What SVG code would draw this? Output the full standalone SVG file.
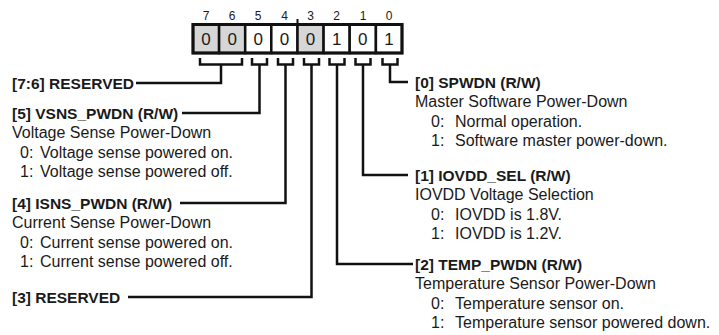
<svg xmlns="http://www.w3.org/2000/svg" width="719" height="335" viewBox="0 0 719 335">
<style>
.t{font-family:"Liberation Sans",Arial,sans-serif;font-size:16px;fill:#1a1a1a}
.b{font-weight:bold;font-size:15.5px}
.bit{font-family:"Liberation Sans",Arial,sans-serif;font-size:12px;fill:#1a1a1a;text-anchor:middle}
.val{font-family:"Liberation Sans",Arial,sans-serif;font-size:17px;fill:#1a1a1a;text-anchor:middle}
.cell{fill:#ffffff;stroke:#111;stroke-width:2.5}
.res{fill:#d6d6d6}
.ln{fill:none;stroke:#111;stroke-width:2.5;stroke-linejoin:miter}
</style>
<g id="register">
  <text class="bit" x="206" y="20">7</text>
  <text class="bit" x="232" y="20">6</text>
  <text class="bit" x="258" y="20">5</text>
  <text class="bit" x="284.5" y="20">4</text>
  <text class="bit" x="310.5" y="20">3</text>
  <text class="bit" x="336.5" y="20">2</text>
  <text class="bit" x="363" y="20">1</text>
  <text class="bit" x="389" y="20">0</text>
  <rect class="cell res" x="193" y="24.5" width="26.1" height="28.5"/>
  <rect class="cell res" x="219.1" y="24.5" width="26.1" height="28.5"/>
  <rect class="cell" x="245.2" y="24.5" width="26.1" height="28.5"/>
  <rect class="cell" x="271.3" y="24.5" width="26.2" height="28.5"/>
  <rect class="cell res" x="297.5" y="24.5" width="26.1" height="28.5"/>
  <rect class="cell" x="323.6" y="24.5" width="26.1" height="28.5"/>
  <rect class="cell" x="349.7" y="24.5" width="26.2" height="28.5"/>
  <rect class="cell" x="375.9" y="24.5" width="26.1" height="28.5"/>
  <rect x="193" y="24.5" width="209" height="28.5" fill="none" stroke="#111" stroke-width="3"/>
  <line x1="297.5" y1="19" x2="297.5" y2="25" stroke="#111" stroke-width="2"/>
  <text class="val" x="206" y="45">0</text>
  <text class="val" x="232.2" y="45">0</text>
  <text class="val" x="258.3" y="45">0</text>
  <text class="val" x="284.4" y="45">0</text>
  <text class="val" x="310.6" y="45">0</text>
  <text class="val" x="336.7" y="45">1</text>
  <text class="val" x="362.8" y="45">0</text>
  <text class="val" x="389" y="45">1</text>
</g>
<g id="connectors">
  <path class="ln" d="M200,58 V64.5 H242 V58 M221,64.5 V83 H136"/>
  <path class="ln" d="M252,58 V64.5 H267 V58 M259.5,64.5 V113 H182"/>
  <path class="ln" d="M278,58 V64.5 H293 V58 M285.5,64.5 V203 H180"/>
  <path class="ln" d="M304,58 V64.5 H319 V58 M311.5,64.5 V297 H128"/>
  <path class="ln" d="M329.5,58 V64.5 H344.5 V58 M337,64.5 V264 H413"/>
  <path class="ln" d="M355.5,58 V64.5 H370.5 V58 M363,64.5 V175 H408"/>
  <path class="ln" d="M382.5,58 V64.5 H397.5 V58 M390,64.5 V82 H408"/>
</g>
<g id="f76">
  <text class="t b" x="12" y="88.5">[7:6] RESERVED</text>
</g>
<g id="f5">
  <text class="t b" x="12" y="118.5">[5] VSNS_PWDN (R/W)</text>
  <text class="t" x="12" y="138">Voltage Sense Power-Down</text>
  <text class="t" x="20" y="157.5">0:</text><text class="t" x="40" y="157.5">Voltage sense powered on.</text>
  <text class="t" x="20" y="177">1:</text><text class="t" x="40" y="177">Voltage sense powered off.</text>
</g>
<g id="f4">
  <text class="t b" x="12" y="208.5">[4] ISNS_PWDN (R/W)</text>
  <text class="t" x="12" y="228">Current Sense Power-Down</text>
  <text class="t" x="20" y="247.5">0:</text><text class="t" x="40" y="247.5">Current sense powered on.</text>
  <text class="t" x="20" y="267">1:</text><text class="t" x="40" y="267">Current sense powered off.</text>
</g>
<g id="f3">
  <text class="t b" x="12" y="302.5">[3] RESERVED</text>
</g>
<g id="f0">
  <text class="t b" x="415" y="87.5">[0] SPWDN (R/W)</text>
  <text class="t" x="415" y="107">Master Software Power-Down</text>
  <text class="t" x="431" y="126.5">0:</text><text class="t" x="455" y="126.5">Normal operation.</text>
  <text class="t" x="431" y="146">1:</text><text class="t" x="455" y="146">Software master power-down.</text>
</g>
<g id="f1">
  <text class="t b" x="415" y="180.5">[1] IOVDD_SEL (R/W)</text>
  <text class="t" x="415" y="200">IOVDD Voltage Selection</text>
  <text class="t" x="431" y="219.5">0:</text><text class="t" x="455" y="219.5">IOVDD is 1.8V.</text>
  <text class="t" x="431" y="239">1:</text><text class="t" x="455" y="239">IOVDD is 1.2V.</text>
</g>
<g id="f2">
  <text class="t b" x="415" y="269.5">[2] TEMP_PWDN (R/W)</text>
  <text class="t" x="415" y="289">Temperature Sensor Power-Down</text>
  <text class="t" x="431" y="308.5">0:</text><text class="t" x="455" y="308.5">Temperature sensor on.</text>
  <text class="t" x="431" y="328">1:</text><text class="t" x="455" y="328">Temperature sensor powered down.</text>
</g>
</svg>
